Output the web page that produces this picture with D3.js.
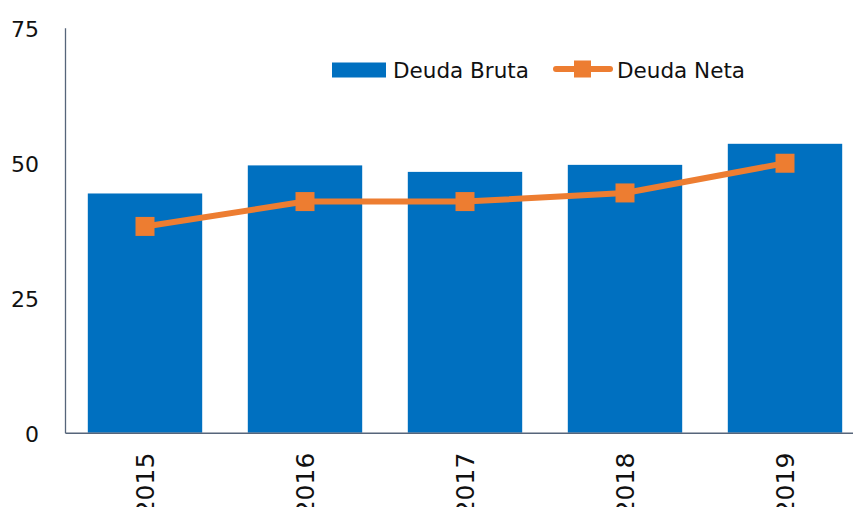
<!DOCTYPE html>
<html>
<head>
<meta charset="utf-8">
<script src="https://cdn.jsdelivr.net/npm/d3@7"></script>
<style>
  body { margin: 0; background: #fff; }
  svg { display: block; font-family: "DejaVu Sans", sans-serif; }
</style>
</head>
<body>
<svg id="chart" width="853" height="507"></svg>
<script>
// data
var years = ['2015', '2016', '2017', '2018', '2019'];
var deudaBruta = [44.3, 49.5, 48.3, 49.6, 53.5];
var deudaNeta = [38.2, 42.8, 42.8, 44.4, 49.9];
var yTicks = [0, 25, 50, 75];

var BLUE = '#0070C0',
    ORANGE = '#ED7D31',
    AXIS = '#56657A';

var svg = d3.select('#chart');

var x = d3.scaleBand()
    .domain(years)
    .range([65, 865])
    .paddingInner(0.285)
    .paddingOuter(0.1425);

var y = d3.scaleLinear()
    .domain([0, 75])
    .range([432.7, 27.7]);

// bars
svg.append('g').selectAll('rect')
    .data(deudaBruta)
    .enter().append('rect')
    .attr('x', function(d, i){ return x(years[i]); })
    .attr('y', function(d){ return y(d); })
    .attr('width', x.bandwidth())
    .attr('height', function(d){ return y(0) - y(d); })
    .attr('fill', BLUE);

// y axis
var yAxis = svg.append('g')
    .attr('transform', 'translate(65,0)')
    .call(d3.axisLeft(y).tickValues(yTicks).tickSize(0).tickPadding(26));
yAxis.select('.domain').attr('stroke', AXIS).attr('stroke-width', 1.3);
yAxis.selectAll('text')
    .attr('font-family', '"DejaVu Sans", sans-serif')
    .attr('font-size', 22)
    .attr('fill', '#111')
    .attr('dy', '0.42em');

// x axis
var xAxis = svg.append('g')
    .attr('transform', 'translate(0,' + y(0) + ')')
    .call(d3.axisBottom(x).tickSize(0).tickPadding(0));
xAxis.select('.domain').attr('stroke', AXIS).attr('stroke-width', 1.5);
xAxis.selectAll('text')
    .attr('font-family', '"DejaVu Sans", sans-serif')
    .attr('font-size', 25)
    .attr('fill', '#111')
    .attr('text-anchor', 'end')
    .attr('transform', 'translate(0,20) rotate(-90)')
    .attr('x', 0)
    .attr('y', 0)
    .attr('dy', '0.36em');

// line series
var cx = function(i){ return x(years[i]) + x.bandwidth() / 2; };
var line = d3.line()
    .x(function(d, i){ return cx(i); })
    .y(function(d){ return y(d); });

svg.append('path')
    .datum(deudaNeta)
    .attr('d', line)
    .attr('fill', 'none')
    .attr('stroke', ORANGE)
    .attr('stroke-width', 6)
    .attr('stroke-linejoin', 'round');

var ms = 19;
svg.append('g').selectAll('rect')
    .data(deudaNeta)
    .enter().append('rect')
    .attr('x', function(d, i){ return cx(i) - ms / 2; })
    .attr('y', function(d){ return y(d) - ms / 2; })
    .attr('width', ms)
    .attr('height', ms)
    .attr('fill', ORANGE);

// legend
var legend = svg.append('g').attr('font-size', 21.5).attr('fill', '#111');
legend.append('rect')
    .attr('x', 332).attr('y', 62.5)
    .attr('width', 54).attr('height', 15)
    .attr('fill', BLUE);
legend.append('text')
    .attr('x', 393).attr('y', 77.5)
    .text('Deuda Bruta');
legend.append('line')
    .attr('x1', 556).attr('x2', 610)
    .attr('y1', 69).attr('y2', 69)
    .attr('stroke', ORANGE)
    .attr('stroke-width', 6)
    .attr('stroke-linecap', 'round');
legend.append('rect')
    .attr('x', 574).attr('y', 60.5)
    .attr('width', 17).attr('height', 17)
    .attr('fill', ORANGE);
legend.append('text')
    .attr('x', 617).attr('y', 77.5)
    .text('Deuda Neta');
</script>
</body>
</html>
